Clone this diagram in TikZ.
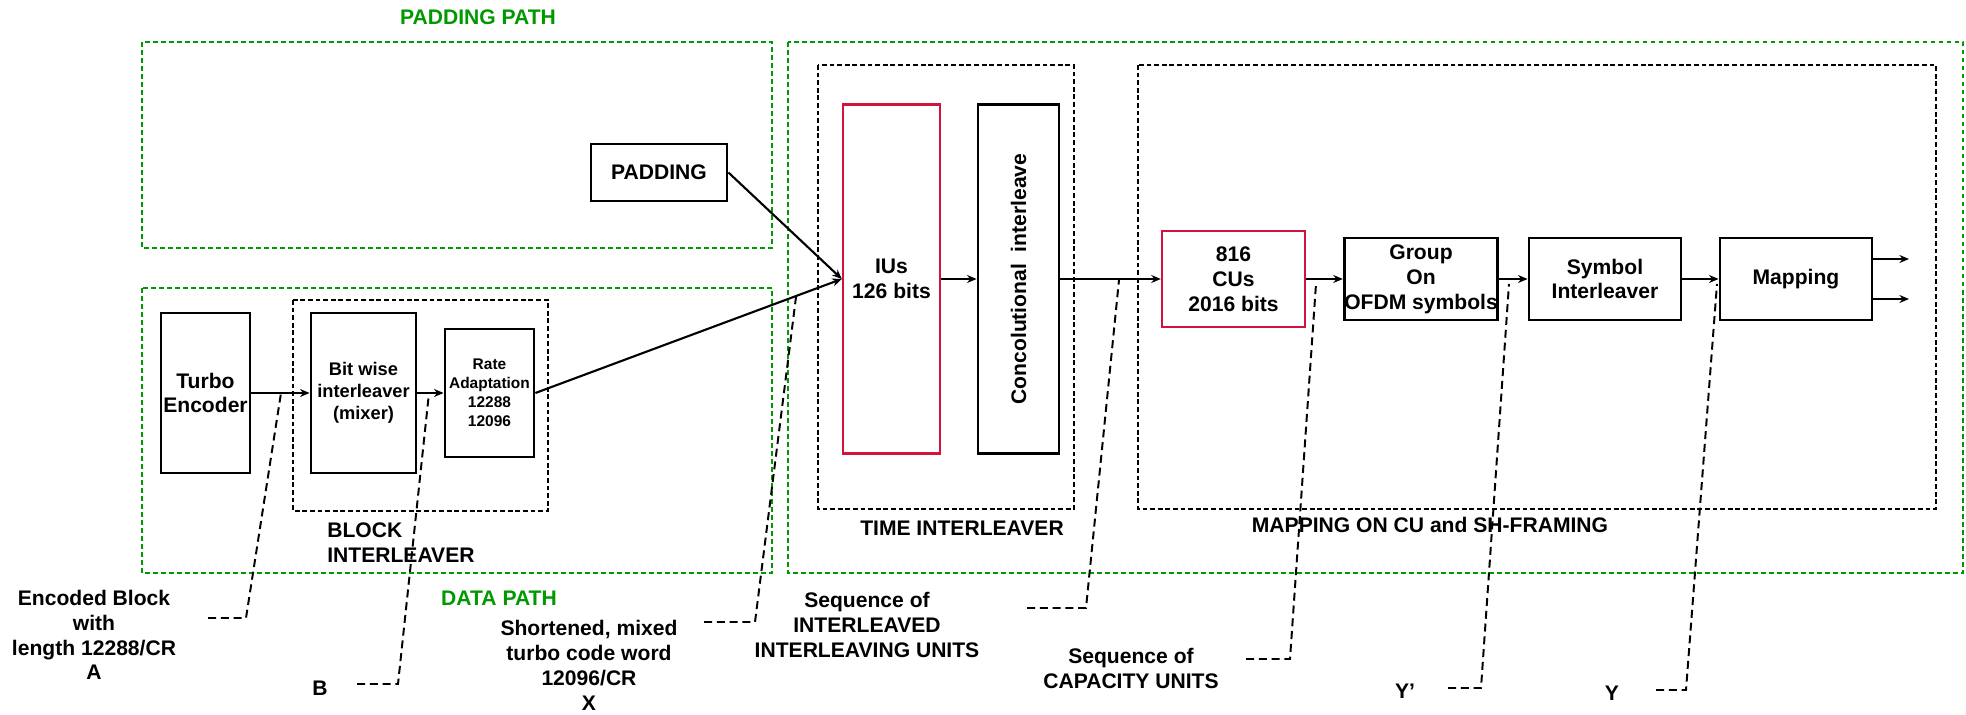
\documentclass[tikz,border=0pt]{standalone}
\usepackage{fontspec}
\setmainfont{Liberation Sans}
\usetikzlibrary{arrows.meta}
\definecolor{pathgreen}{RGB}{0,153,0}
\definecolor{unitred}{RGB}{210,20,60}

\begin{document}
\begin{tikzpicture}[x=0.025cm, y=-0.025cm,
    txt/.style={font=\fontsize{15}{17.7}\selectfont\bfseries, align=center, inner sep=0pt},
    blk/.style={txt, draw, line width=2pt},
    unit/.style={blk, draw=unitred, line width=1.7pt},
    flow/.style={line width=1.5pt, -{Stealth[length=2.4mm, width=2mm]}},
    lead/.style={line width=1.4pt, dash pattern=on 2mm off 1.2mm},
    pathbox/.style={draw=pathgreen, line width=0.9pt, dash pattern=on 1.2mm off 0.8mm},
    stagebox/.style={draw, line width=0.8pt, dash pattern=on 1.2mm off 0.7mm}]

  \useasboundingbox (0,0) rectangle (1966,715);

  \draw[pathbox] (142,42) rectangle (772,248);
  \draw[pathbox] (142,288) rectangle (772,573);
  \draw[pathbox] (788,42) rectangle (1963,573);
  \draw[stagebox] (293,300) rectangle (548,511);
  \draw[stagebox] (818,65) rectangle (1074,509);
  \draw[stagebox] (1138,65) rectangle (1936,509);

  \node[txt, text=pathgreen] (padpath) at (478,17) {PADDING PATH};
  \node[txt, text=pathgreen] (datapath) at (499,598) {DATA PATH};
  \node[txt, align=left, anchor=west] (blocklbl) at (327,542.5) {BLOCK\\INTERLEAVER};
  \node[txt] (timelbl) at (962,528) {TIME INTERLEAVER};
  \node[txt] (maplbl) at (1430,525) {MAPPING ON CU and SH-FRAMING};

  \node[blk, minimum width=2.225cm, minimum height=4cm] (turbo) at (205.5,393) {Turbo\\Encoder};
  \node[blk, minimum width=2.625cm, minimum height=4cm, font=\fontsize{13}{15.6}\selectfont\bfseries] (mixer) at (363.5,393) {Bit wise\\interleaver\\(mixer)};
  \node[blk, minimum width=2.225cm, minimum height=3.2cm, font=\fontsize{11}{13.5}\selectfont\bfseries] (rate) at (489.5,393) {Rate\\Adaptation\\12288\\12096};
  \node[blk, minimum width=3.4cm, minimum height=1.425cm] (pad) at (659,172.5) {PADDING};
  \node[unit, minimum width=2.425cm, minimum height=8.725cm] (iu) at (891.5,279) {IUs\\126 bits};
  \node[blk, minimum width=2.025cm, minimum height=8.725cm] (conv) at (1018.5,279) {};
  \node[txt, rotate=90] (convtxt) at (conv.center) {Concolutional\ \ interleave};
  \node[unit, minimum width=3.575cm, minimum height=2.4cm] (cu) at (1233.5,279) {816\\CUs\\2016 bits};
  \node[blk, minimum width=3.8cm, minimum height=2.05cm] (group) at (1421,279) {Group\\On\\OFDM symbols};
  \node[blk, minimum width=3.8cm, minimum height=2.05cm] (symint) at (1605,279) {Symbol\\Interleaver};
  \node[blk, minimum width=3.8cm, minimum height=2.05cm] (mapping) at (1796,279) {Mapping};

  \draw[flow] (turbo) -- (mixer);
  \draw[flow] (mixer) -- (rate);
  \draw[flow] (rate.east) -- (iu.west);
  \draw[flow] (pad.east) -- (iu.west);
  \draw[flow] (iu) -- (conv);
  \draw[flow] (conv) -- (cu);
  \draw[flow] (cu) -- (group);
  \draw[flow] (group) -- (symint);
  \draw[flow] (symint) -- (mapping);
  \coordinate (out1) at (1909,259);
  \coordinate (out2) at (1909,299);
  \draw[flow] (mapping.east |- out1) -- (out1);
  \draw[flow] (mapping.east |- out2) -- (out2);

  \node[txt] (lblA) at (94,635) {Encoded Block\\with\\length 12288/CR\\A};
  \node[txt] (lblB) at (320,688) {B};
  \node[txt] (lblX) at (589,665.5) {Shortened, mixed\\turbo code word\\12096/CR\\X};
  \node[txt] (lblIU) at (867,625) {Sequence of\\INTERLEAVED\\INTERLEAVING UNITS};
  \node[txt] (lblCU) at (1131,668.5) {Sequence of\\CAPACITY UNITS};
  \node[txt] (lblYp) at (1405,691) {Y’};
  \node[txt] (lblY) at (1612,693) {Y};

  \coordinate (a1) at (208,618);  \coordinate (a2) at (246,618);  \coordinate (a3) at (281,393);
  \coordinate (b1) at (357,684);  \coordinate (b2) at (398,684);  \coordinate (b3) at (429,393);
  \coordinate (x1) at (704,622);  \coordinate (x2) at (755,622);  \coordinate (x3) at (796,297);
  \coordinate (i1) at (1027,608); \coordinate (i2) at (1086,608); \coordinate (i3) at (1119,280);
  \coordinate (c1) at (1246,659); \coordinate (c2) at (1290,659); \coordinate (c3) at (1316,284);
  \coordinate (p1) at (1448,688); \coordinate (p2) at (1481,688); \coordinate (p3) at (1509,284);
  \coordinate (y1) at (1656,690); \coordinate (y2) at (1686,690); \coordinate (y3) at (1717,284);
  \draw[lead] (a1) -- (a2) -- (a3);
  \draw[lead] (b1) -- (b2) -- (b3);
  \draw[lead] (x1) -- (x2) -- (x3);
  \draw[lead] (i1) -- (i2) -- (i3);
  \draw[lead] (c1) -- (c2) -- (c3);
  \draw[lead] (p1) -- (p2) -- (p3);
  \draw[lead] (y1) -- (y2) -- (y3);
\end{tikzpicture}
\end{document}
